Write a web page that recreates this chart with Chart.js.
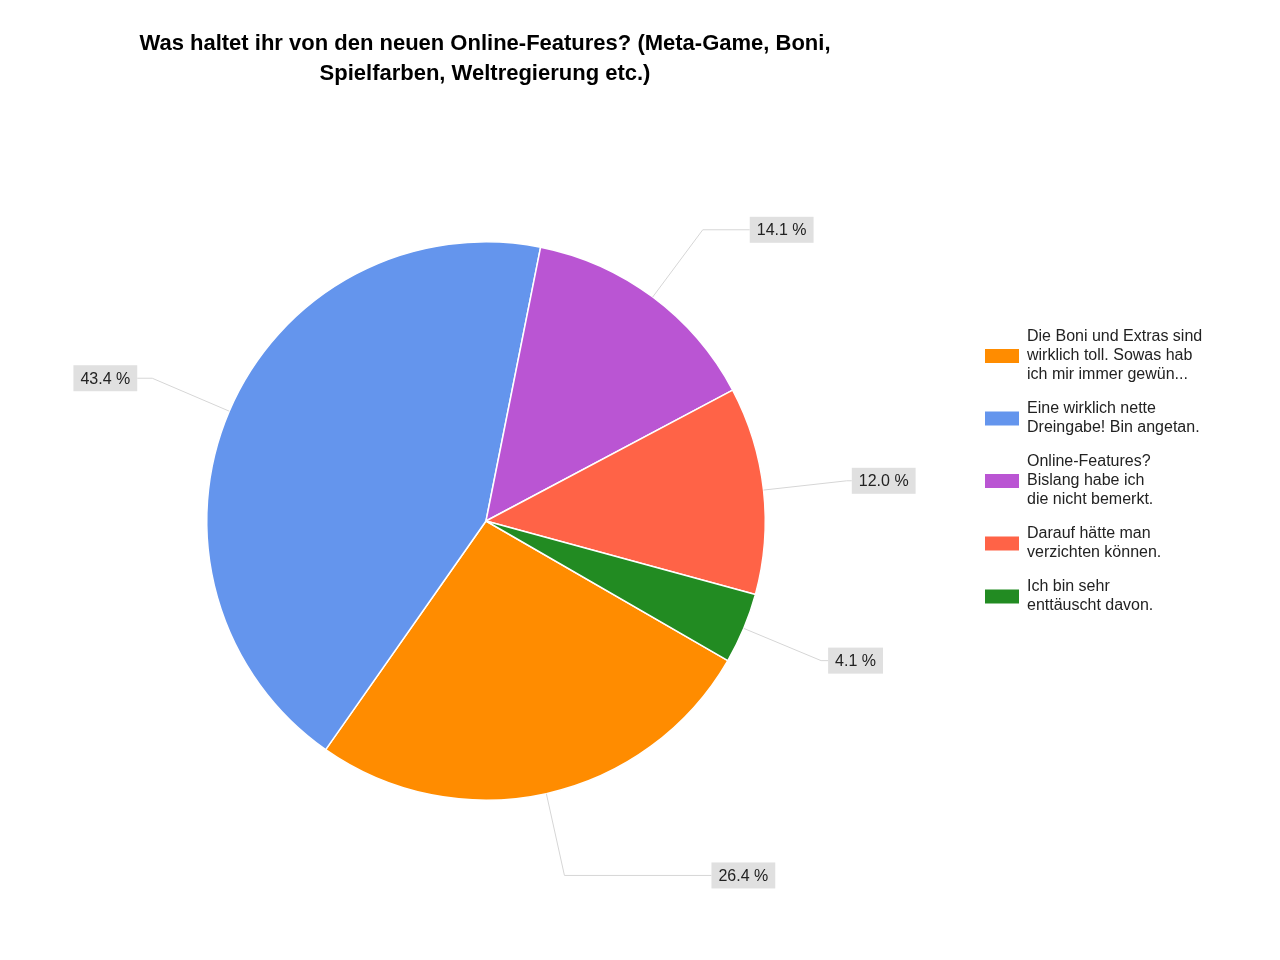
<!DOCTYPE html>
<html><head><meta charset="utf-8">
<script src="https://cdn.jsdelivr.net/npm/chart.js@4/dist/chart.umd.min.js"></script>
<style>html,body{margin:0;background:#fff}#wrap{width:1280px;height:960px}</style>
</head><body><div id="wrap"><canvas id="c" width="1280" height="960"></canvas></div>
<script>
const titleLines = ["Was haltet ihr von den neuen Online-Features? (Meta-Game, Boni,", "Spielfarben, Weltregierung etc.)"];
const categories = [
  ["Die Boni und Extras sind", "wirklich toll. Sowas hab", "ich mir immer gewün..."],
  ["Eine wirklich nette", "Dreingabe! Bin angetan."],
  ["Online-Features?", "Bislang habe ich", "die nicht bemerkt."],
  ["Darauf hätte man", "verzichten können."],
  ["Ich bin sehr", "enttäuscht davon."]
];
const values = [26.4, 43.4, 14.1, 12.0, 4.1];
const colors = ["#ff8c00", "#6495ed", "#ba55d3", "#ff6347", "#228b22"];
const leaderTail = [147, 15, 47, 5, 7];

const FONT = '"Liberation Sans", Arial, sans-serif';

const overlay = {
  id: 'overlay',
  afterDraw(chart) {
    const ctx = chart.ctx;
    ctx.save();
    // title
    ctx.fillStyle = '#000';
    ctx.font = 'bold 22px ' + FONT;
    ctx.textAlign = 'center'; ctx.textBaseline = 'middle';
    titleLines.forEach((t, i) => ctx.fillText(t, 485, 44 + i * 30));
    // labels
    const meta = chart.getDatasetMeta(0);
    ctx.font = '16px ' + FONT;
    meta.data.forEach((arc, i) => {
      const mid = (arc.startAngle + arc.endAngle) / 2;
      const r = arc.outerRadius;
      const x0 = arc.x + Math.cos(mid) * r, y0 = arc.y + Math.sin(mid) * r;
      const x1 = arc.x + Math.cos(mid) * r * 1.3, y1 = arc.y + Math.sin(mid) * r * 1.3;
      const dir = Math.cos(mid) >= 0 ? 1 : -1;
      const x2 = x1 + dir * leaderTail[i];
      ctx.strokeStyle = '#d6d6d6'; ctx.lineWidth = 1;
      ctx.beginPath(); ctx.moveTo(x0, y0); ctx.lineTo(x1, y1); ctx.lineTo(x2, y1); ctx.stroke();
      const txt = values[i].toFixed(1) + ' %';
      const w = ctx.measureText(txt).width + 14, h = 26;
      const bx = dir > 0 ? x2 : x2 - w;
      ctx.fillStyle = '#e0e0e0';
      ctx.fillRect(bx, y1 - h / 2, w, h);
      ctx.fillStyle = '#222'; ctx.textAlign = 'left';
      ctx.fillText(txt, bx + 7, y1 + 1);
    });
    // legend
    let y = 337;
    categories.forEach((lines, i) => {
      const n = lines.length;
      const cy = y + (n - 1) * 19 / 2;
      ctx.fillStyle = colors[i];
      ctx.fillRect(985, cy - 7, 34, 14);
      ctx.fillStyle = '#222'; ctx.textAlign = 'left';
      lines.forEach((l, j) => ctx.fillText(l, 1027, y + j * 19));
      y += (n - 1) * 19 + 34;
    });
    ctx.restore();
  }
};

new Chart(document.getElementById('c'), {
  type: 'pie',
  data: {
    labels: categories.map(c => c.join(' ')),
    datasets: [{ data: values, backgroundColor: colors, borderColor: '#fff', borderWidth: 1.5 }]
  },
  options: {
    responsive: false, animation: false, rotation: 120,
    layout: { padding: { left: 206, top: 241, right: 514, bottom: 159 } },
    plugins: { legend: { display: false }, tooltip: { enabled: false }, title: { display: false } }
  },
  plugins: [overlay]
});
</script></body></html>
